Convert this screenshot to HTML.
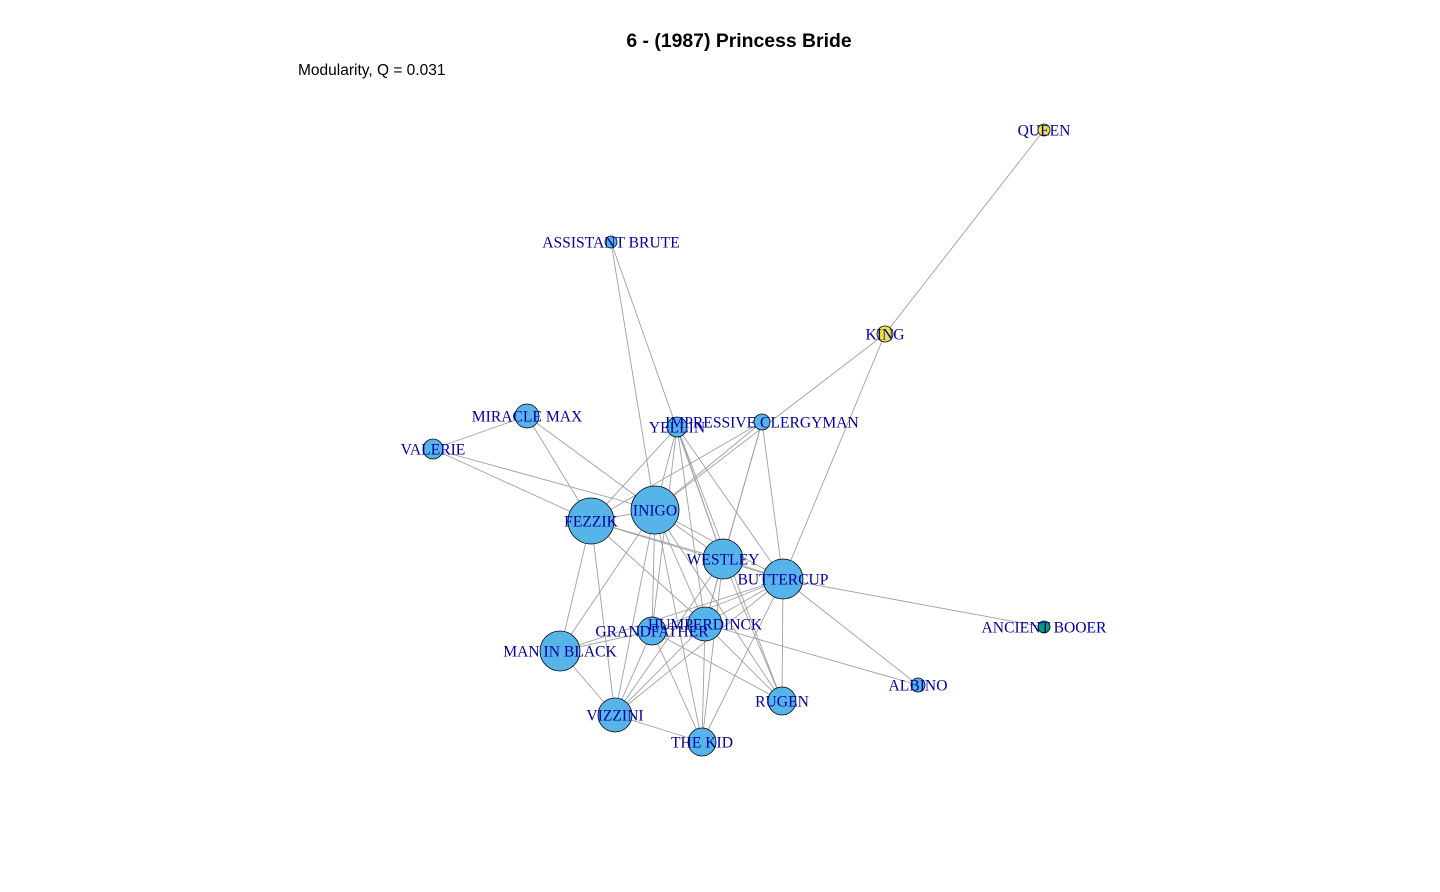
<!DOCTYPE html>
<html><head><meta charset="utf-8"><style>
html,body{margin:0;padding:0;background:#fff;}
svg{display:block;}
</style></head><body>
<svg id="chart" width="1440" height="892" viewBox="0 0 1440 892" xmlns="http://www.w3.org/2000/svg">
<text x="739" y="47" text-anchor="middle" font-family="Liberation Sans, sans-serif" font-weight="bold" font-size="19.4">6 - (1987) Princess Bride</text>
<text x="298" y="75" font-family="Liberation Sans, sans-serif" font-size="15.5">Modularity, Q = 0.031</text>
<g id="edges"></g>
<g id="nodes"></g>
<g id="labels"></g>
</svg>
<script>
const nodeNames = ["QUEEN","ASSISTANT BRUTE","KING","MIRACLE MAX","YELLIN","IMPRESSIVE CLERGYMAN","VALERIE","INIGO","FEZZIK","WESTLEY","BUTTERCUP","HUMPERDINCK","GRANDFATHER","MAN IN BLACK","ANCIENT BOOER","ALBINO","RUGEN","VIZZINI","THE KID"];
const nodeX = [1044,611,885,527,677,762,433,655,591,723,783,705,652,560,1044,918,782,615,702];
const nodeY = [130,242,334,416,427,422,449,510,521,559,579,624,631,651,627,685,701,715,742];
const nodeSize = [6,6,8,12,10,8,10,24,23,20,20,17,14,20,6,7,14,17,14];
const nodeGroup = [1,0,1,0,0,0,0,0,0,0,0,0,0,0,2,0,0,0,0];
const groupColors = ["#56b4e9","#f0e442","#009e73"];
const edgeList = [
["QUEEN","KING"],["KING","BUTTERCUP"],["KING","INIGO"],
["ASSISTANT BRUTE","INIGO"],["ASSISTANT BRUTE","WESTLEY"],
["MIRACLE MAX","VALERIE"],["MIRACLE MAX","FEZZIK"],["MIRACLE MAX","INIGO"],
["VALERIE","FEZZIK"],["VALERIE","INIGO"],
["YELLIN","FEZZIK"],["YELLIN","INIGO"],["YELLIN","WESTLEY"],["YELLIN","BUTTERCUP"],["YELLIN","HUMPERDINCK"],["YELLIN","GRANDFATHER"],["YELLIN","RUGEN"],
["IMPRESSIVE CLERGYMAN","FEZZIK"],["IMPRESSIVE CLERGYMAN","INIGO"],["IMPRESSIVE CLERGYMAN","WESTLEY"],["IMPRESSIVE CLERGYMAN","BUTTERCUP"],["IMPRESSIVE CLERGYMAN","HUMPERDINCK"],
["INIGO","FEZZIK"],["INIGO","WESTLEY"],["INIGO","BUTTERCUP"],["INIGO","HUMPERDINCK"],["INIGO","GRANDFATHER"],["INIGO","MAN IN BLACK"],["INIGO","VIZZINI"],["INIGO","THE KID"],["INIGO","RUGEN"],
["FEZZIK","WESTLEY"],["FEZZIK","BUTTERCUP"],["FEZZIK","MAN IN BLACK"],["FEZZIK","VIZZINI"],["FEZZIK","HUMPERDINCK"],
["WESTLEY","BUTTERCUP"],["WESTLEY","HUMPERDINCK"],["WESTLEY","THE KID"],["WESTLEY","VIZZINI"],["WESTLEY","RUGEN"],
["BUTTERCUP","HUMPERDINCK"],["BUTTERCUP","GRANDFATHER"],["BUTTERCUP","ANCIENT BOOER"],["BUTTERCUP","ALBINO"],["BUTTERCUP","RUGEN"],["BUTTERCUP","THE KID"],["BUTTERCUP","VIZZINI"],["BUTTERCUP","MAN IN BLACK"],
["HUMPERDINCK","GRANDFATHER"],["HUMPERDINCK","VIZZINI"],["HUMPERDINCK","THE KID"],["HUMPERDINCK","RUGEN"],["HUMPERDINCK","ALBINO"],
["GRANDFATHER","MAN IN BLACK"],["GRANDFATHER","VIZZINI"],["GRANDFATHER","THE KID"],["GRANDFATHER","RUGEN"],
["MAN IN BLACK","VIZZINI"],["VIZZINI","THE KID"]
];
const NS="http://www.w3.org/2000/svg";
const eg=document.getElementById('edges'), ng=document.getElementById('nodes'), lg=document.getElementById('labels');
function idx(n){return nodeNames.indexOf(n);}
edgeList.forEach(e=>{
  const a=idx(e[0]), b=idx(e[1]);
  const l=document.createElementNS(NS,'line');
  
  
  l.setAttribute('x1',nodeX[a]);l.setAttribute('y1',nodeY[a]);
  l.setAttribute('x2',nodeX[b]);l.setAttribute('y2',nodeY[b]);
  l.setAttribute('stroke','#a0a0a0');l.setAttribute('stroke-width','0.9');
  eg.appendChild(l);
});
nodeNames.forEach((n,i)=>{
  const c=document.createElementNS(NS,'circle');
  
  
  c.setAttribute('cx',nodeX[i]);c.setAttribute('cy',nodeY[i]);c.setAttribute('r',nodeSize[i]);
  c.setAttribute('fill',groupColors[nodeGroup[i]]);c.setAttribute('stroke','#000');c.setAttribute('stroke-width','0.8');
  ng.appendChild(c);
  const t=document.createElementNS(NS,'text');
  
  
  t.setAttribute('x',nodeX[i]);t.setAttribute('y',nodeY[i]+5.5);
  t.setAttribute('text-anchor','middle');
  t.setAttribute('font-family','Liberation Serif, serif');
  t.setAttribute('font-size','15.6');
  t.setAttribute('fill','#0000a0');
  t.textContent=n;
  lg.appendChild(t);
});
</script>
</body></html>
